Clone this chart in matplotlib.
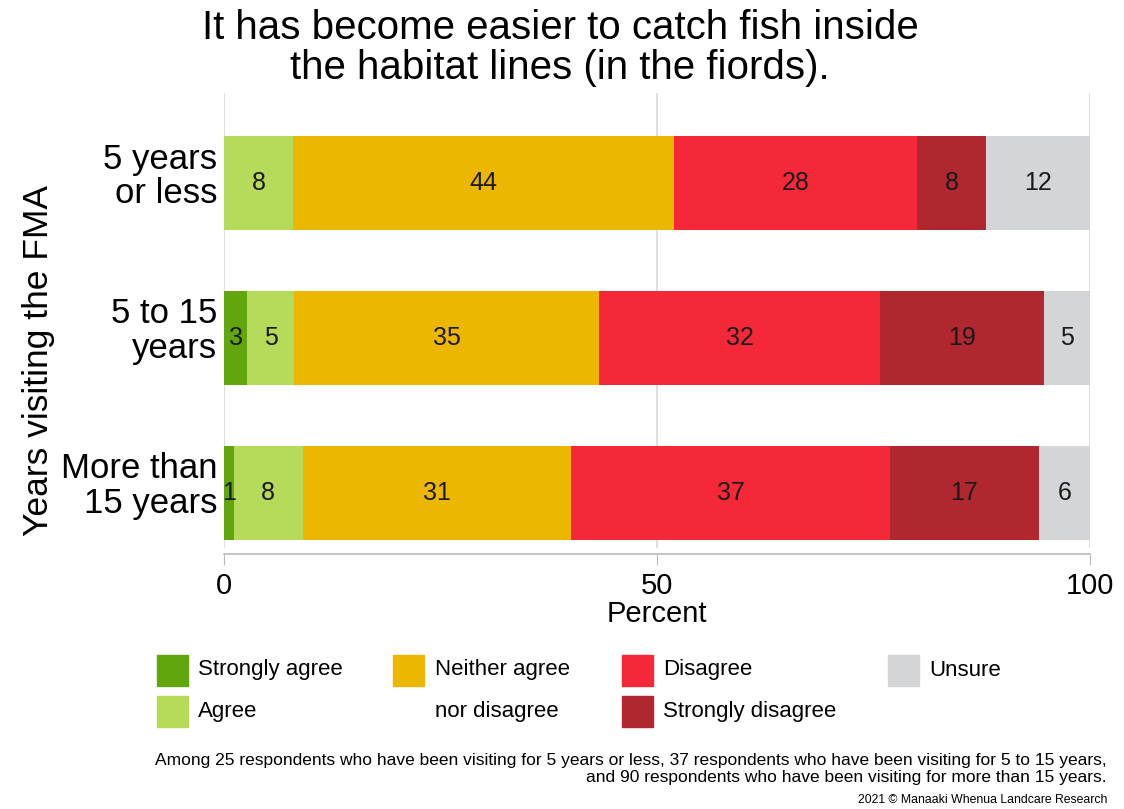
import matplotlib
matplotlib.use("Agg")
import matplotlib.pyplot as plt
from matplotlib.patches import Rectangle
from matplotlib.transforms import ScaledTranslation
import numpy as np

plt.rcParams['font.family'] = ['Liberation Sans', 'DejaVu Sans']

categories = ["5 years\nor less", "5 to 15\nyears", "More than\n15 years"]
responses = ["Strongly agree", "Agree", "Neither agree\nnor disagree", "Disagree", "Strongly disagree", "Unsure"]
colors = ["#62A60F", "#B6DA5A", "#EBB700", "#F42838", "#B1272F", "#D4D5D7"]

# percentages per group (columns follow `responses`)
strongly_agree = [0.0, 2.7, 1.1]
agree = [8.0, 5.4, 8.0]
neither = [44.0, 35.2, 31.0]
disagree = [28.0, 32.5, 36.8]
strongly_disagree = [8.0, 18.9, 17.2]
unsure = [12.0, 5.3, 5.9]
series = [strongly_agree, agree, neither, disagree, strongly_disagree, unsure]

title = "It has become easier to catch fish inside\nthe habitat lines (in the fiords)."
footnote = ("Among 25 respondents who have been visiting for 5 years or less, 37 respondents who have been visiting for 5 to 15 years,\n"
            "and 90 respondents who have been visiting for more than 15 years.")
credit = "2021 \u00a9 Manaaki Whenua Landcare Research"

fig = plt.figure(figsize=(11.24, 8.09), dpi=100)
ax = fig.add_axes([224/1124, 1-548/809, (1090-224)/1124, (548-93)/809])

ax.spines['bottom'].set_position(('outward', 4))
for s in ['top', 'right', 'left']:
    ax.spines[s].set_visible(False)
ax.spines['bottom'].set_color('#BBBBBB')
ax.spines['bottom'].set_linewidth(1.2)

y = np.arange(len(categories))
left = np.zeros(len(categories))
for vals, col in zip(series, colors):
    vals = np.array(vals)
    ax.barh(y, vals, left=left, height=0.61, color=col, zorder=2)
    for yi, (l, v) in enumerate(zip(left, vals)):
        if v > 0.5:
            ax.text(l + v/2, yi, f"{round(v):.0f}", ha='center', va='center',
                    fontsize=18, color='#1a1a1a', zorder=3)
    left = left + vals

ax.set_xlim(0, 100)
ax.set_ylim(2.357, -0.583)
ax.set_yticks(y)
ax.set_yticklabels(categories, fontsize=25, linespacing=1.05)
ax.set_xticks([0, 50, 100])
ax.set_xticklabels(["0", "50", "100"], fontsize=21)
ax.tick_params(axis='y', length=0, pad=5)
ax.tick_params(axis='x', length=8, color='#BBBBBB', pad=5)
ax.grid(axis='x', color='#D9D9D9', linewidth=1.2, zorder=0)
ax.set_xlabel("Percent", fontsize=21, labelpad=0)
ax.set_ylabel("Years visiting the FMA", fontsize=25.5)
ax.yaxis.set_label_coords(-0.195, 0.413)

shift = ScaledTranslation(0, 11/100, fig.dpi_scale_trans)
for lbl in ax.get_yticklabels():
    lbl.set_transform(lbl.get_transform() + shift)

fig.text(560/1124, 1-48/809, title, ha='center', va='center', fontsize=29, linespacing=1.08)

# legend
leg_pos = [(157, 670), (157, 711), (393, 670), (622, 670), (622, 711), (888, 670)]
sq = 31
for (px, py), lab, col in zip(leg_pos, responses, colors):
    fig.patches.append(Rectangle((px/1124, 1-(py+sq/2)/809), sq/1124, sq/809,
                                 transform=fig.transFigure, color=col))
    if "\n" in lab:
        l1, l2 = lab.split("\n")
        fig.text((px+42)/1124, 1-py/809, l1, ha='left', va='center', fontsize=16)
        fig.text((px+42)/1124, 1-711/809, l2, ha='left', va='center', fontsize=16)
    else:
        fig.text((px+41)/1124, 1-py/809, lab, ha='left', va='center', fontsize=16)

fig.text(1107/1124, 1-769/809, footnote, ha='right', va='center', fontsize=12.5, linespacing=1.1)
fig.text(1107/1124, 1-800/809, credit, ha='right', va='center', fontsize=8.8)

fig.savefig("out.png", dpi=100)
